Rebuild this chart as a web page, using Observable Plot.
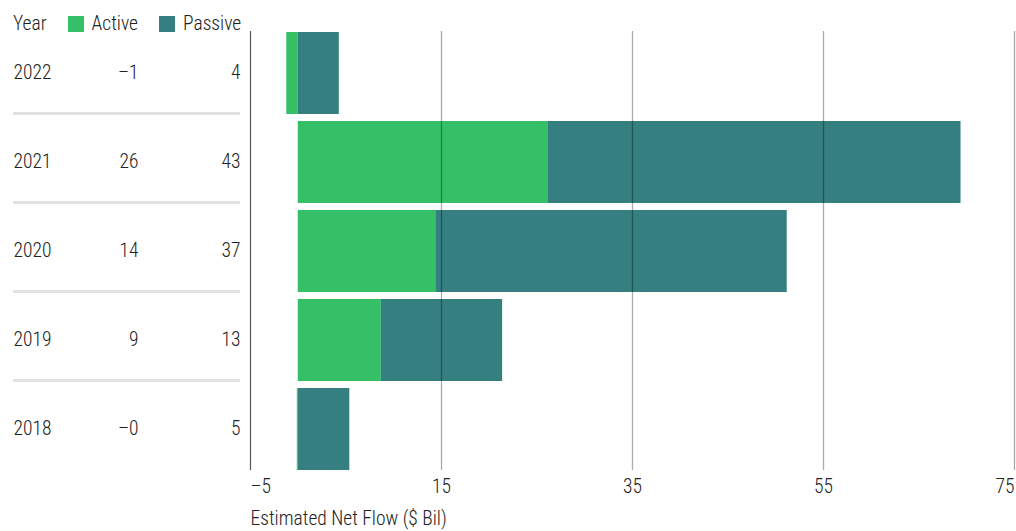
<!DOCTYPE html>
<html>
<head>
<meta charset="utf-8">
<script src="https://cdn.jsdelivr.net/npm/d3@7"></script>
<script src="https://cdn.jsdelivr.net/npm/@observablehq/plot@0.6"></script>
<style>
  body { margin: 0; background: #fff; }
  #wrap { position: relative; width: 1016px; height: 531px; font-family: "Roboto Condensed", "Liberation Sans Narrow", "Arial Narrow", Roboto, sans-serif; font-weight: 300; color: #222; }
  #legend { position: absolute; left: 13px; top: 14px; display: flex; align-items: center; font-size: 19.5px; line-height: 20px; }
  #legend .sw { display: inline-block; width: 16px; height: 16px; margin-right: 8px; }
  #legend .item { display: flex; align-items: center; margin-left: 21px; }
</style>
</head>
<body>
<div id="wrap">
  <div id="legend"></div>
  <div id="chart"></div>
</div>
<script>
const years = ["2022", "2021", "2020", "2019", "2018"];
const active = [-1.2, 26.2, 14.4, 8.7, -0.1];
const passive = [4.3, 43.2, 36.8, 12.7, 5.4];
const seriesNames = ["Active", "Passive"];
const seriesColors = ["#35c067", "#357f80"];
const xTicks = [-5, 15, 35, 55, 75];
const xLabel = "Estimated Net Flow ($ Bil)";
const headerLabel = "Year";

const rows = years.map((y, i) => ({year: y, active: active[i], passive: passive[i]}));
const long = [];
rows.forEach(r => {
  long.push({year: r.year, series: "Active", value: r.active});
  long.push({year: r.year, series: "Passive", value: r.passive});
});
const fmt = v => (v < 0 ? "\u2013" : "") + Math.round(Math.abs(v));
const font = '"Roboto Condensed", "Liberation Sans Narrow", "Arial Narrow", Roboto, sans-serif';
const fs = 19.5;

// legend
const legend = document.getElementById("legend");
const hdr = document.createElement("span");
hdr.textContent = headerLabel;
legend.appendChild(hdr);
seriesNames.forEach((n, i) => {
  const it = document.createElement("span");
  it.className = "item";
  const sw = document.createElement("span");
  sw.className = "sw";
  sw.style.background = seriesColors[i];
  it.appendChild(sw);
  it.appendChild(document.createTextNode(n));
  legend.appendChild(it);
});

const txt = {fontSize: fs, fill: "#222", fontWeight: 300};

const chart = Plot.plot({
  width: 1016,
  height: 531,
  marginLeft: 250,
  marginRight: 2,
  marginTop: 31,
  marginBottom: 61,
  style: {fontFamily: font, fontSize: fs + "px", fontWeight: 300, color: "#222", background: "transparent"},
  x: {domain: [-5, 75], ticks: xTicks, axis: null},
  y: {domain: years, paddingInner: 0.08, paddingOuter: 0, align: 0.5, axis: null},
  color: {domain: seriesNames, range: seriesColors},
  marks: [
    Plot.barX(long, Plot.stackX({y: "year", x: "value", fill: "series"})),
    Plot.ruleX(xTicks.slice(1), {stroke: "#000", strokeOpacity: 0.33, strokeWidth: 1.3}),
    Plot.ruleX([xTicks[0]], {stroke: "#555", strokeWidth: 1.2}),
    Plot.text(xTicks.slice(0, 1), {x: d => d, text: fmt, frameAnchor: "bottom", dy: 22, textAnchor: "start", ...txt}),
    Plot.text(xTicks.slice(1, -1), {x: d => d, text: fmt, frameAnchor: "bottom", dy: 22, textAnchor: "middle", ...txt}),
    Plot.text(xTicks.slice(-1), {x: d => d, text: fmt, frameAnchor: "bottom", dy: 22, textAnchor: "end", ...txt}),
    Plot.text([xLabel], {frameAnchor: "bottom-left", dy: 54, textAnchor: "start", ...txt}),
    Plot.ruleY(years.slice(0, 4), {y: d => d, dy: 40, insetLeft: -237, insetRight: 774, stroke: "#e2e2e2", strokeWidth: 3}),
    Plot.text(rows, {y: "year", text: "year", frameAnchor: "left", dx: -237, dy: -1, textAnchor: "start", ...txt}),
    Plot.text(rows, {y: "year", text: d => fmt(d.active), frameAnchor: "left", dx: -112, dy: -1, textAnchor: "end", ...txt}),
    Plot.text(rows, {y: "year", text: d => fmt(d.passive), frameAnchor: "left", dx: -10, dy: -1, textAnchor: "end", ...txt})
  ]
});
document.getElementById("chart").appendChild(chart);
</script>
</body>
</html>
